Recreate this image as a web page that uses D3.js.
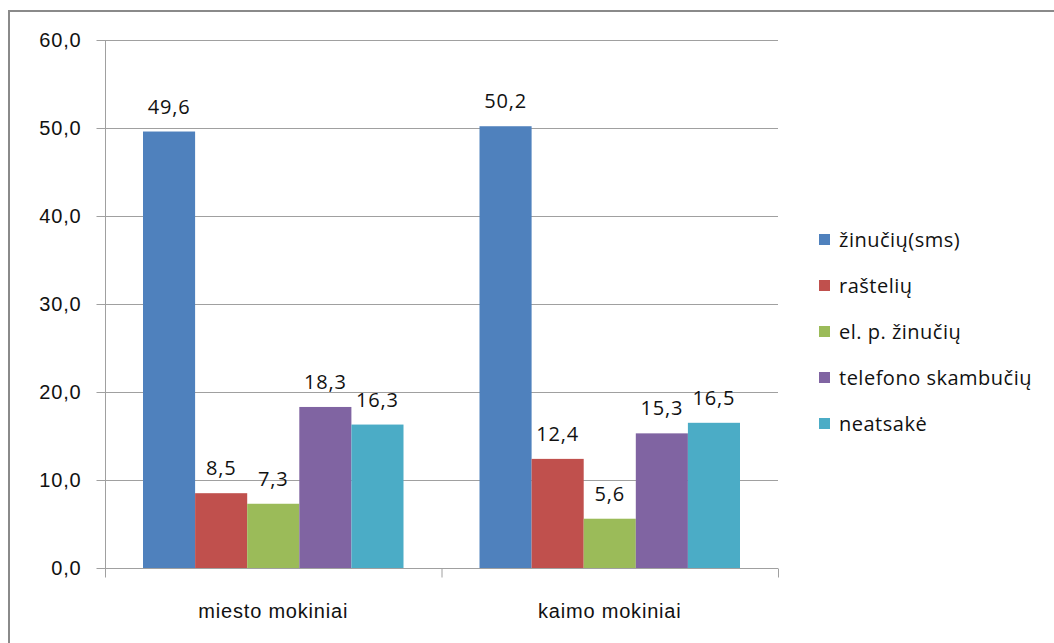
<!DOCTYPE html>
<html>
<head>
<meta charset="utf-8">
<script src="https://cdn.jsdelivr.net/npm/d3@7"></script>
<style>
	body { margin: 0; background: #fff; }
	svg { display: block; font-family: "Open Sans", sans-serif; }
	.axis path, .axis line { stroke: #a0a0a0; }
	.axis text { font-size: 20px; fill: #111; letter-spacing: 0.8px; }
	.grid line { stroke: #a0a0a0; }
	.value { font-size: 20px; fill: #111; letter-spacing: 0.8px; }
	.legend text { font-size: 20px; fill: #111; letter-spacing: 0.5px; }
</style>
</head>
<body>
<svg width="1054" height="643"></svg>
<script>
(function() {

	var categories = ['miesto mokiniai', 'kaimo mokiniai']
	var seriesNames = ['žinučių(sms)', 'raštelių', 'el. p. žinučių', 'telefono skambučių', 'neatsakė']
	var miestoValues = [49.6, 8.5, 7.3, 18.3, 16.3]
	var kaimoValues = [50.2, 12.4, 5.6, 15.3, 16.5]
	var yTicks = [0, 10, 20, 30, 40, 50, 60]

	var colors = ['#4F81BD', '#C0504D', '#9BBB59', '#8064A2', '#4BACC6']

	var rows = categories.map(function(c, i) {
		var vals = i === 0 ? miestoValues : kaimoValues
		return { category: c, values: seriesNames.map(function(s, j) { return { key: s, value: vals[j] } }) }
	})

	var svg = d3.select('svg')
	var margin = { left: 105, top: 40, right: 276, bottom: 75 }
	var chartWidth = 1054 - margin.left - margin.right
	var chartHeight = 643 - margin.top - margin.bottom

	var fmt = function(v) { return d3.format('.1f')(v).replace('.', ',') }

	// outer frame
	svg.append('rect')
		.attr('x', 9).attr('y', 11)
		.attr('width', 1060).attr('height', 650)
		.attr('fill', 'none')
		.attr('stroke', '#8a8a8a')
		.attr('stroke-width', 2)

	var g = svg.append('g').attr('transform', 'translate(' + margin.left + ',' + margin.top + ')')

	var x0 = d3.scaleBand().domain(categories).range([0, chartWidth]).paddingInner(0).paddingOuter(0)
	var x1 = d3.scaleBand().domain(seriesNames).range([38, x0.bandwidth() - 38])
	var y = d3.scaleLinear().domain([0, 60]).range([chartHeight, 0])
	var color = d3.scaleOrdinal().domain(seriesNames).range(colors)

	g.append('g').attr('class', 'grid')
		.selectAll('line')
		.data(yTicks.filter(function(t) { return t > 0 }))
		.enter().append('line')
		.attr('x1', 0).attr('x2', chartWidth)
		.attr('y1', function(d) { return y(d) + 0.5 })
		.attr('y2', function(d) { return y(d) + 0.5 })

	var groups = g.selectAll('.group')
		.data(rows)
		.enter().append('g')
		.attr('class', 'group')
		.attr('transform', function(d) { return 'translate(' + x0(d.category) + ',0)' })

	groups.selectAll('rect')
		.data(function(d) { return d.values })
		.enter().append('rect')
		.attr('x', function(d) { return x1(d.key) })
		.attr('width', x1.bandwidth())
		.attr('y', function(d) { return y(d.value) })
		.attr('height', function(d) { return chartHeight - y(d.value) })
		.attr('fill', function(d) { return color(d.key) })

	groups.selectAll('.value')
		.data(function(d) { return d.values })
		.enter().append('text')
		.attr('class', 'value')
		.attr('text-anchor', 'middle')
		.attr('x', function(d) { return x1(d.key) + x1.bandwidth() / 2 })
		.attr('y', function(d) { return y(d.value) - 18 })
		.text(function(d) { return fmt(d.value) })

	var axisY = d3.axisLeft(y).tickValues(yTicks).tickSize(9).tickPadding(15).tickFormat(fmt)
	g.append('g').attr('class', 'axis axis--y')
		.attr('transform', 'translate(0.5,0)')
		.call(axisY)
		.call(function(a) { a.select('.domain').attr('d', 'M0,' + chartHeight + 'V0') })

	var axisX = d3.axisBottom(x0).tickSize(0).tickPadding(35)
	var gx = g.append('g').attr('class', 'axis axis--x')
		.attr('transform', 'translate(0,' + (chartHeight + 0.5) + ')')
		.call(axisX)
	gx.select('.domain').attr('d', 'M0,0H' + chartWidth)
	gx.selectAll('.sep')
		.data([0, x0.bandwidth(), chartWidth])
		.enter().append('line')
		.attr('class', 'sep')
		.attr('x1', function(d) { return d + 0.5 }).attr('x2', function(d) { return d + 0.5 })
		.attr('y1', 0).attr('y2', 9)

	var legend = svg.append('g').attr('class', 'legend')
		.attr('transform', 'translate(819,240)')
	var items = legend.selectAll('g')
		.data(seriesNames)
		.enter().append('g')
		.attr('transform', function(d, i) { return 'translate(0,' + (i * 46) + ')' })
	items.append('rect')
		.attr('x', 0).attr('y', -6)
		.attr('width', 11).attr('height', 11)
		.attr('fill', function(d) { return color(d) })
	items.append('text')
		.attr('x', 20).attr('y', 0)
		.attr('dy', '0.35em')
		.text(function(d) { return d })
})()
</script>
</body>
</html>
